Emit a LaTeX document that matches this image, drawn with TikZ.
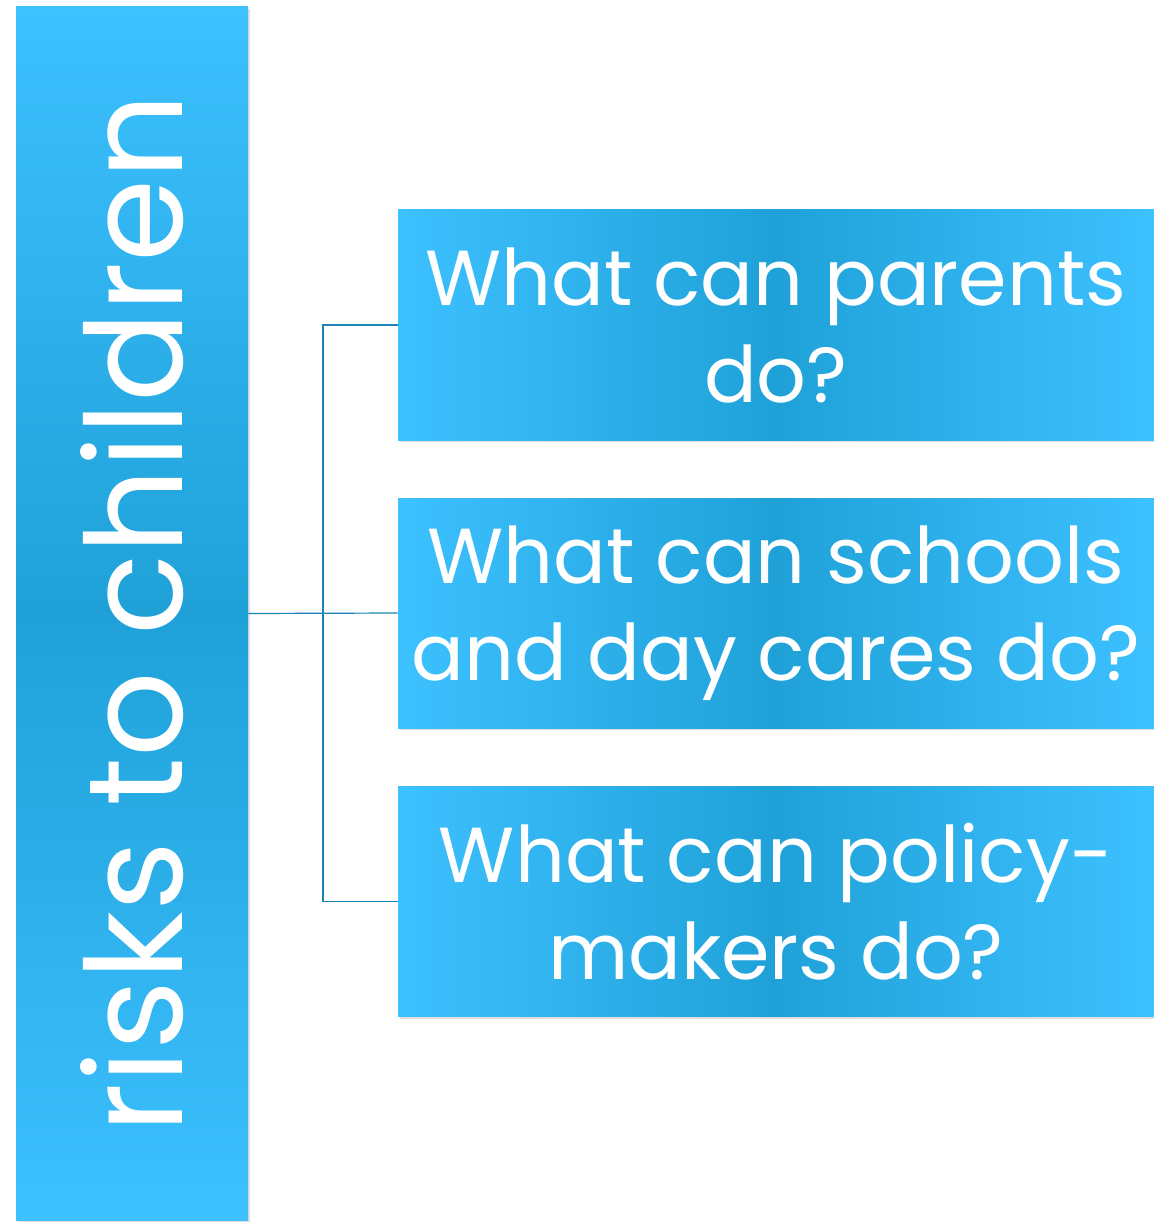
\documentclass[tikz,border=0pt]{standalone}
\usepackage{fontspec}
\setmainfont{Poppins}
\usetikzlibrary{shadows}

\definecolor{boxlight}{HTML}{3DC1FF}
\definecolor{boxdark}{HTML}{1FA1D8}
\definecolor{linkblue}{HTML}{1A84B6}

\tikzset{
	rootbox/.style={draw=none, minimum width=116pt, minimum height=606.5pt,
		top color=boxlight, bottom color=boxlight, middle color=boxdark,
		drop shadow={opacity=0.25, shadow xshift=1pt, shadow yshift=-1pt},
		text=white, inner sep=0pt},
	askbox/.style={draw=none, minimum width=378pt, minimum height=115pt,
		left color=boxlight, right color=boxlight, middle color=boxdark,
		drop shadow={opacity=0.25, shadow xshift=1pt, shadow yshift=-1pt},
		text=white, align=center, inner sep=0pt,
		font=\fontsize{39}{48.5}\selectfont},
	link/.style={draw=linkblue, line width=0.6pt}
}

\begin{document}
\begin{tikzpicture}[x=0.5pt,y=-0.5pt]
	\useasboundingbox[fill=white] (0,0) rectangle (1154,1225);
	\node[rootbox] (root) at (132,613.5) {};
	\node[rotate=90, text=white, font=\fontsize{67}{70}\selectfont] (roottext) at (root.center) {risks to children};
	\node[askbox] (parents) at (776,325) {What can parents\\do?};
	\node[askbox] (schools) at (776,613) {What can schools\\and day cares do?};
	\node[askbox] (policy) at (776,901.5) {What can policy-\\makers do?};
	\coordinate (split) at (323,613);
	\draw[link] (root.east) -- (schools.west);
	\draw[link] (parents.west) -| (split) |- (policy.west);
\end{tikzpicture}
\end{document}
